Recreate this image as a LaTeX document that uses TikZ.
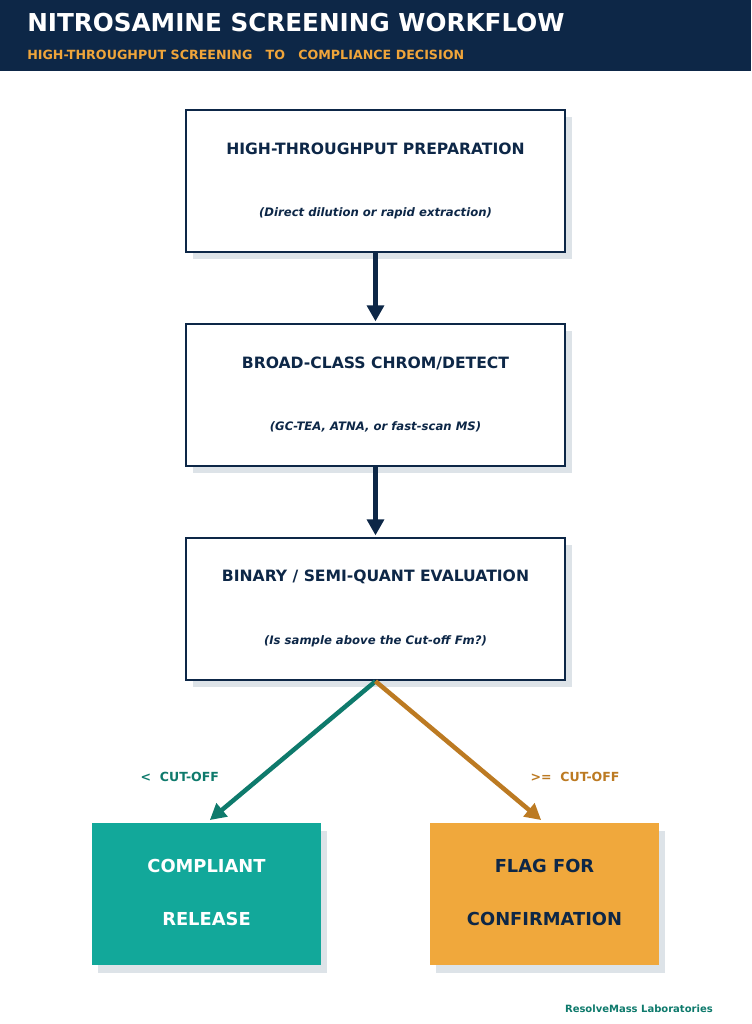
\documentclass[tikz,border=0pt]{standalone}
\usepackage{fontspec}
\setmainfont{DejaVu Sans}
\usetikzlibrary{arrows.meta,shadows}
\definecolor{navy}{HTML}{0D2747}
\definecolor{tealfill}{HTML}{12A89A}
\definecolor{tealdark}{HTML}{0E7A6C}
\definecolor{orangefill}{HTML}{F0A83C}
\definecolor{orangedark}{HTML}{BC7A22}
\definecolor{shadowgray}{HTML}{DDE3E8}
\definecolor{subtitleorange}{HTML}{F0A53A}
\tikzset{
  stepbox/.style={draw=navy, line width=1.9pt, fill=white, minimum width=284.25pt, minimum height=106.5pt, inner sep=0pt,
    drop shadow={shadow xshift=5.25pt, shadow yshift=-5.25pt, fill=shadowgray, opacity=1}},
  endbox/.style={draw=none, minimum width=171.75pt, minimum height=106.5pt, inner sep=0pt,
    drop shadow={shadow xshift=4.5pt, shadow yshift=-6pt, fill=shadowgray, opacity=1}},
  boxtitle/.style={text=navy, font=\bfseries\fontsize{11.7}{14}\selectfont},
  boxsub/.style={text=navy, font=\bfseries\itshape\fontsize{8.75}{10}\selectfont},
  endtext/.style={font=\bfseries\fontsize{13.4}{15}\selectfont},
  flowarrow/.style={draw=navy, line width=3.75pt, -{Triangle[length=12pt,width=12.5pt]}},
  branch/.style={line width=3.4pt, -{Triangle[length=12pt,width=12.5pt]}},
  cutlabel/.style={font=\bfseries\fontsize{9.4}{11}\selectfont, anchor=west},
}
\begin{document}
\begin{tikzpicture}[x=0.75pt,y=-0.75pt]
\useasboundingbox (0,0) rectangle (751,1024);
\fill[white] (0,0) rectangle (751,1024);
% header
\fill[navy] (0,0) rectangle (751,71);
\node[anchor=base west, text=white, inner sep=0pt, font=\bfseries\fontsize{18.5}{22}\selectfont] (title) at (27,32) {NITROSAMINE SCREENING WORKFLOW};
\node[anchor=base west, text=subtitleorange, inner sep=0pt, font=\bfseries\fontsize{9.5}{12}\selectfont] (subtitle) at (27,60) {HIGH-THROUGHPUT SCREENING\ \ \ TO\ \ \ COMPLIANCE DECISION};
% boxes
\node[stepbox] (b1) at (375.5,181) {};
\node[boxtitle] (t1) at ([yshift=24pt]b1.center) {HIGH-THROUGHPUT PREPARATION};
\node[boxsub] (s1) at ([yshift=-24pt]b1.center) {(Direct dilution or rapid extraction)};
\node[stepbox] (b2) at (375.5,395) {};
\node[boxtitle] (t2) at ([yshift=24pt]b2.center) {BROAD-CLASS CHROM/DETECT};
\node[boxsub] (s2) at ([yshift=-24pt]b2.center) {(GC-TEA, ATNA, or fast-scan MS)};
\node[stepbox] (b3) at (375.5,609) {};
\node[boxtitle] (t3) at ([yshift=24pt]b3.center) {BINARY / SEMI-QUANT EVALUATION};
\node[boxsub] (s3) at ([yshift=-24pt]b3.center) {(Is sample above the Cut-off Fm?)};
% end boxes
\node[endbox, fill=tealfill] (lb) at (206.5,894) {};
\node[endtext, text=white] (lt1) at ([yshift=21pt]lb.center) {COMPLIANT};
\node[endtext, text=white] (lt2) at ([yshift=-19pt]lb.center) {RELEASE};
\node[endbox, fill=orangefill] (rb) at (544.5,894) {};
\node[endtext, text=navy] (rt1) at ([yshift=21pt]rb.center) {FLAG FOR};
\node[endtext, text=navy] (rt2) at ([yshift=-19pt]rb.center) {CONFIRMATION};
% arrows
\draw[flowarrow] (b1.south) -- ([yshift=1pt]b2.north);
\draw[flowarrow] (b2.south) -- ([yshift=1pt]b3.north);
\draw[branch, draw=tealdark, fill=tealdark] (b3.south) -- ([xshift=2.5pt,yshift=2pt]lb.north);
\draw[branch, draw=orangedark, fill=orangedark] (b3.south) -- ([xshift=-2.5pt,yshift=2pt]rb.north);
% labels
\node[cutlabel, text=tealdark] (lcut) at (136,777) {<\ \ CUT-OFF};
\node[cutlabel, text=orangedark] (rcut) at (526,777) {>=\ \ CUT-OFF};
\node[anchor=base east, inner sep=0pt, text=tealdark, font=\bfseries\fontsize{7.5}{9}\selectfont] (footer) at (713,1012) {ResolveMass Laboratories};
\end{tikzpicture}
\end{document}
